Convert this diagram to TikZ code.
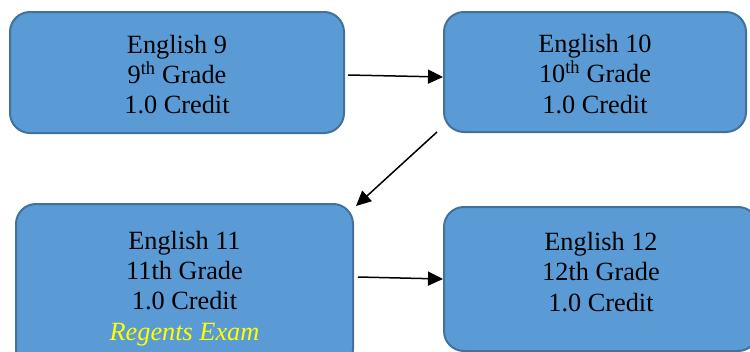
\documentclass[tikz,border=0pt]{standalone}
\usepackage{fontspec}
\setmainfont{Liberation Serif}
\usetikzlibrary{arrows.meta}
\definecolor{boxfill}{HTML}{5B9BD5}
\definecolor{boxline}{HTML}{41719C}
\definecolor{regyellow}{HTML}{FFFF00}
\newcommand{\topstrut}{\rule{0pt}{22pt}}
\tikzset{
  course/.style={draw=boxline, fill=boxfill, line width=2pt, rounded corners=20pt,
    align=center, inner sep=0pt, font=\fontsize{26.3}{30.3}\selectfont},
  txt/.style={align=center, inner sep=0pt, font=\fontsize{26.3}{30.3}\selectfont},
  flow/.style={-{Triangle[length=15pt,width=14pt]}, line width=1.5pt, black}
}
\begin{document}
\begin{tikzpicture}[x=1pt,y=-1pt]
\clip (0,0) rectangle (750,351);
\fill[white] (0,0) rectangle (750,351);
\node[course, minimum width=334pt, minimum height=121pt] (e9) at (177,72.5)
  {\topstrut English 9\\9\textsuperscript{th} Grade\\1.0 Credit};
\node[course, minimum width=302pt, minimum height=120pt] (e10) at (595,72)
  {\topstrut English 10\\10\textsuperscript{th} Grade\\1.0 Credit};
\node[course, minimum width=337pt, minimum height=165pt] (e11) at (184.5,286.5)
  {\topstrut English 11\\11th Grade\\1.0 Credit\\\textcolor{regyellow}{\itshape Regents Exam}};
\node[course, minimum width=314pt, minimum height=144pt] (e12) at (601,279) {};
\node[txt] (e12t) at (601,272) {English 12\\12th Grade\\1.0 Credit};
\draw[flow] ([xshift=3pt,yshift=-2.5pt]e9.east) -- ([yshift=-5pt]e10.west);
\draw[flow] ([xshift=-6pt,yshift=1pt]e10.south west) -- ([xshift=2pt,yshift=-3pt]e11.north east);
\draw[flow] ([xshift=4pt,yshift=9.5pt]e11.east) -- (e12.west);
\end{tikzpicture}
\end{document}
